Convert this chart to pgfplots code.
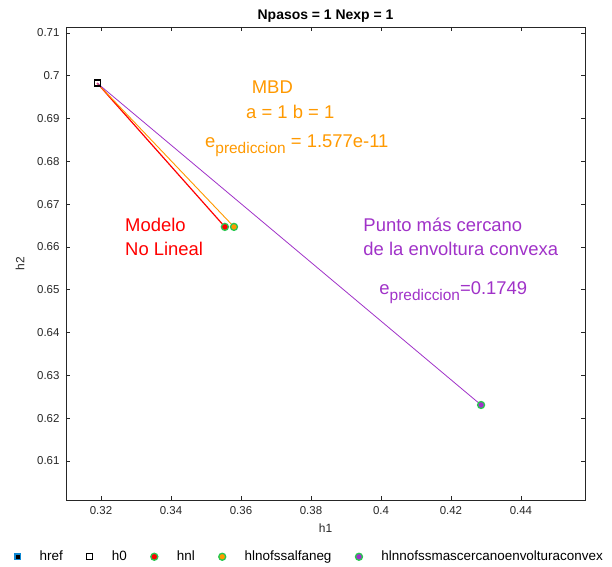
\documentclass[border=0pt]{standalone}
\usepackage{pgfplots}
\pgfplotsset{compat=1.18}
\usepackage{fontspec}
\setmainfont{Liberation Sans}
\definecolor{mbdor}{RGB}{255,153,0}
\definecolor{purp}{RGB}{160,50,200}
\definecolor{grn}{RGB}{40,200,80}
\definecolor{axgray}{RGB}{38,38,38}
\newcommand{\pred}{\raisebox{-6bp}{\fontsize{15.5}{17}\selectfont prediccion}}
\begin{document}
\begin{tikzpicture}[x=1bp,y=1bp]
\path[use as bounding box] (-66,-67) rectangle (546,500);
\begin{axis}[
  at={(0,0)}, anchor=south west,
  scale only axis, width=519bp, height=473bp,
  xmin=0.31, xmax=0.4583, ymin=0.6009, ymax=0.7114,
  xtick={0.32,0.34,...,0.44}, ytick={0.61,0.62,...,0.71},
  xticklabels={0.32,0.34,0.36,0.38,0.4,0.42,0.44},
  yticklabels={0.61,0.62,0.63,0.64,0.65,0.66,0.67,0.68,0.69,0.7,0.71},
  tick align=inside, major tick length=4bp,
  axis line style={axgray, line width=0.8bp},
  every tick/.style={axgray, line width=0.8bp},
  tick label style={font=\fontsize{11.5}{13}\selectfont, text=axgray},
  xticklabel style={yshift=-3bp},
  yticklabel style={xshift=-3bp},
  /pgf/number format/assume math mode=true,
  xlabel={h1}, ylabel={h2},
  label style={font=\fontsize{12}{14}\selectfont, text=axgray},
  xlabel style={yshift=-2bp},
  ylabel style={yshift=6bp},
  title={\bfseries Npasos = 1 Nexp = 1},
  title style={font=\fontsize{14}{16}\selectfont, yshift=-5bp},
  legend style={at={(0.47,-0.12)}, anchor=center, draw=none, fill=none,
    font=\fontsize{13.5}{15}\selectfont, legend columns=-1,
    /tikz/every odd column/.append style={column sep=17bp},
    /tikz/every even column/.append style={column sep=22bp}},
  legend cell align=left,
]
% lines
\addplot[red, line width=1.2bp, forget plot] coordinates {(0.3189,0.6983) (0.3554,0.6647)};
\addplot[mbdor, line width=0.9bp, forget plot] coordinates {(0.3189,0.6983) (0.3580,0.6647)};
\addplot[purp, line width=0.8bp, forget plot] coordinates {(0.3189,0.6983) (0.4286,0.6231)};
% legend/markers
\addlegendimage{only marks, mark=square*, mark size=2.8bp, mark options={fill=black, draw=cyan!70!blue, line width=1.4bp}}
\addlegendentry{href}
\addplot[only marks, mark=square, mark size=3bp, mark options={draw=black, line width=1.2bp, fill=white}] coordinates {(0.3189,0.6983)};
\addlegendentry{h0}
\addplot[only marks, mark=*, mark size=3.5bp, mark options={fill=red, draw=grn, line width=1.3bp}] coordinates {(0.3554,0.6647)};
\addlegendentry{hnl}
\addplot[only marks, mark=*, mark size=3.5bp, mark options={fill=mbdor, draw=grn, line width=1.3bp}] coordinates {(0.3580,0.6647)};
\addlegendentry{hlnofssalfaneg}
\addplot[only marks, mark=*, mark size=3.5bp, mark options={fill=purp, draw=grn, line width=1.3bp}] coordinates {(0.4286,0.6231)};
\addlegendentry{hlnnofssmascercanoenvolturaconvex}
% annotations
\begin{scope}[every node/.style={anchor=base west, inner sep=0pt, font=\fontsize{18.5}{21}\selectfont}]
\node[text=mbdor] at (axis cs:0.36306,0.69591) {MBD};
\node[text=mbdor] at (axis cs:0.36143,0.69007) {a = 1 b = 1};
\node[text=mbdor] at (axis cs:0.34971,0.68329) {e\pred{} = 1.577e-11};
\node[text=red] at (axis cs:0.32686,0.66374) {Modelo};
\node[text=red] at (axis cs:0.32686,0.65813) {No Lineal};
\node[text=purp] at (axis cs:0.39494,0.66357) {Punto más cercano};
\node[text=purp] at (axis cs:0.39494,0.65797) {de la envoltura convexa};
\node[text=purp] at (axis cs:0.39951,0.64895) {e\pred{}=0.1749};
\end{scope}
\end{axis}
\end{tikzpicture}
\end{document}
